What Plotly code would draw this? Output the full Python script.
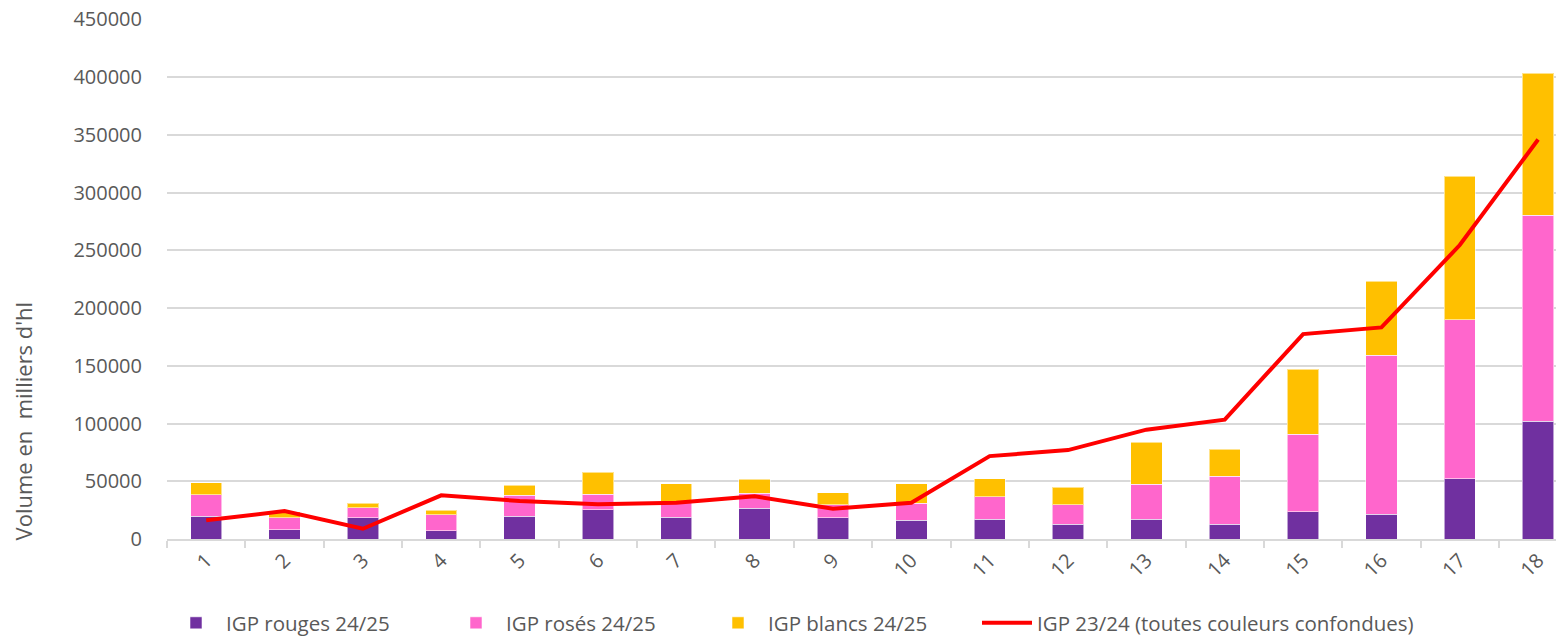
import plotly.graph_objects as go

categories = [str(i) for i in range(1, 19)]
rouges = [19500, 8000, 18400, 7200, 19900, 25400, 19000, 26800, 18200, 16200,
          17300, 12800, 17300, 12700, 23700, 21400, 52000, 102000]
roses = [18800, 10400, 8700, 13800, 17900, 13300, 12400, 13000, 11500, 14700,
         19300, 16900, 30100, 41600, 67200, 137900, 138000, 178300]
blancs = [10400, 5200, 4000, 3800, 8900, 19300, 16500, 11800, 10400, 17000,
          15600, 15200, 36300, 23400, 56100, 63800, 124400, 122900]
igp_2324 = [16200, 24200, 8900, 37800, 32900, 30000, 31400, 37000, 26200, 31400,
            71800, 77000, 94700, 103400, 177500, 183300, 254600, 346000]
y_ticks = [0, 50000, 100000, 150000, 200000, 250000, 300000, 350000, 400000, 450000]

FONT = "'Open Sans', Lato, sans-serif"
GRAY = "#595959"
OFF = 8  # default page body margin
W, H = 1564 - OFF, 637 - OFF
edge = dict(color="rgba(255,255,255,0.55)", width=1)

fig = go.Figure()
fig.add_trace(go.Bar(x=categories, y=rouges, name="IGP rouges 24/25",
                     marker=dict(color="#7030A0", line=edge), legend="legend"))
fig.add_trace(go.Bar(x=categories, y=roses, name="IGP rosés 24/25",
                     marker=dict(color="#FF66CC", line=edge), legend="legend2"))
fig.add_trace(go.Bar(x=categories, y=blancs, name="IGP blancs 24/25",
                     marker=dict(color="#FFC000", line=edge), legend="legend3"))
fig.add_trace(go.Scatter(x=categories, y=igp_2324, mode="lines",
                         name="IGP 23/24 (toutes couleurs confondues)",
                         line=dict(color="#FF0000", width=4), legend="legend4"))


def leg(px):
    return dict(orientation="h", xref="container", yref="container",
                x=(px - OFF) / W, xanchor="left", y=(637 - 623) / H, yanchor="middle",
                itemwidth=50, bgcolor="rgba(0,0,0,0)",
                font=dict(size=20.5, color=GRAY, family=FONT))


fig.update_layout(
    width=W, height=H,
    barmode="stack", bargap=0.6,
    plot_bgcolor="white", paper_bgcolor="white",
    margin=dict(l=167 - OFF, r=0, t=19 - OFF, b=98, autoexpand=False),
    font=dict(family=FONT, color=GRAY, size=21),
    showlegend=True,
    legend=leg(166), legend2=leg(446), legend3=leg(708), legend4=leg(977),
    annotations=[dict(text="Volume en  milliers d'hl", textangle=-90,
                      xref="paper", yref="paper", x=-0.1031, y=0.228,
                      xanchor="center", yanchor="middle", showarrow=False,
                      font=dict(size=22, color=GRAY, family=FONT))],
)
fig.update_xaxes(type="category", range=[-0.5, 17.33], tickangle=-45,
                 automargin=False,
                 showline=True, linecolor="#d9d9d9", linewidth=1.5,
                 ticks="outside", tickson="boundaries", ticklen=7,
                 tickcolor="#d9d9d9", tickwidth=1.5, showgrid=False,
                 tickfont=dict(size=20, color=GRAY))
fig.update_yaxes(range=[0, 450400], tickvals=y_ticks,
                 ticktext=[str(v) for v in y_ticks], automargin=False,
                 ticklabeloverflow="allow",
                 showgrid=True, gridcolor="#d9d9d9", gridwidth=1.5,
                 zeroline=False, showline=False, ticks="",
                 ticklabelstandoff=24, tickfont=dict(size=20, color=GRAY))

fig.write_html("out.html")
